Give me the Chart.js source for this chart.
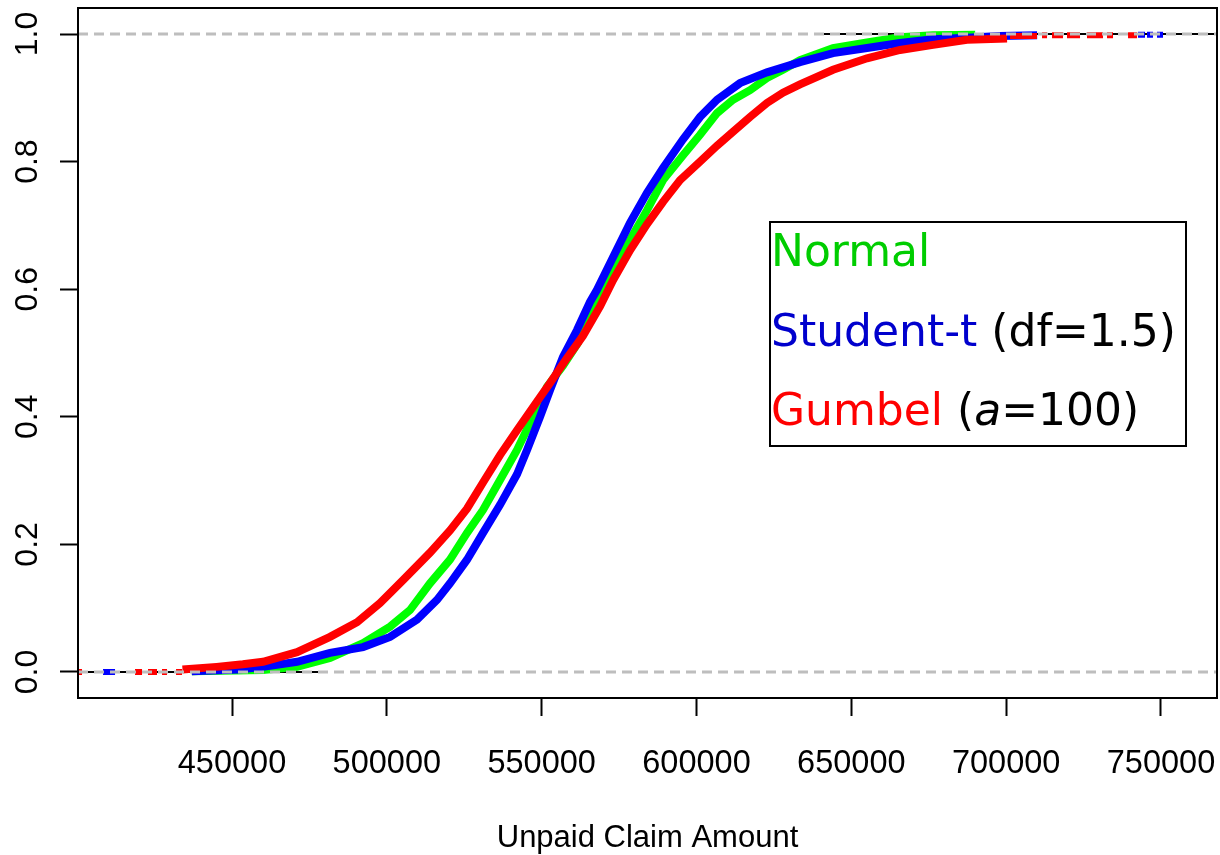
<!DOCTYPE html>
<html>
<head>
<meta charset="utf-8">
<script src="https://cdn.jsdelivr.net/npm/chart.js@4/dist/chart.umd.min.js"></script>
<style>
  body { margin: 0; background: #fff; }
  #wrap { width: 1220px; height: 855px; position: relative; }
</style>
</head>
<body>
<div id="wrap"><canvas id="ecdfChart"></canvas></div>
<script>
// axis limits and ticks
const xMin = 400260, xMax = 768090;
const yMin = -0.0408, yMax = 1.0408;
const xTicks = [450000, 500000, 550000, 600000, 650000, 700000, 750000];
const yTicks = [0, 0.2, 0.4, 0.6, 0.8, 1.0];

// Normal (green)
const normalX = [437000, 460010, 470990, 481650, 492310, 501030, 507480, 513940, 520400, 525890,
  531060, 536550, 542040, 547210, 551730, 556890, 561740, 564000, 568500, 573040, 578530, 584020, 589190,
  595650, 601140, 606630, 611800, 617280, 622770, 627940, 633430, 644090, 655070, 665720, 676380, 690000];
const normalF = [0.001, 0.003, 0.008, 0.022, 0.045, 0.071, 0.097, 0.139, 0.176, 0.218,
  0.254, 0.301, 0.348, 0.400, 0.447, 0.480, 0.516, 0.540, 0.585, 0.630, 0.677, 0.724, 0.771,
  0.810, 0.842, 0.876, 0.897, 0.912, 0.931, 0.944, 0.959, 0.978, 0.987, 0.995, 0.998, 0.999];

// Student-t (blue)
const studentX = [437000, 452000, 460010, 470990, 481650, 492310, 501030, 509740, 516200, 520400,
  525890, 531060, 536550, 542040, 545270, 549470, 552700, 556890, 561410, 565610, 567870, 573040,
  578530, 584020, 589190, 595650, 601140, 606630, 614050, 622770, 633430, 644090, 655070, 665720,
  676380, 687360, 698020, 710000];
const studentF = [0.001, 0.004, 0.008, 0.016, 0.030, 0.039, 0.055, 0.082, 0.113, 0.139,
  0.176, 0.218, 0.262, 0.310, 0.348, 0.400, 0.442, 0.494, 0.536, 0.580, 0.599, 0.650,
  0.704, 0.751, 0.790, 0.835, 0.870, 0.897, 0.923, 0.940, 0.956, 0.970, 0.978, 0.986,
  0.992, 0.994, 0.997, 0.998];
const studentTails = [[408340, 412220, 0.0], [742580, 744840, 0.999], [745490, 747430, 0.999], [748720, 750660, 0.999]];

// Gumbel (red)
const gumbelX = [434000, 445000, 453500, 460010, 470990, 481650, 490370, 497800, 505220, 513940,
  520400, 525890, 531060, 536550, 542040, 547210, 552700, 558180, 563350, 568840, 573040, 578530,
  584020, 589190, 594680, 601140, 606630, 611800, 617280, 622770, 627940, 633430, 644090, 655070,
  665720, 676380, 687360, 700280];
const gumbelF = [0.004, 0.008, 0.012, 0.016, 0.031, 0.055, 0.078, 0.108, 0.144, 0.187,
  0.222, 0.256, 0.297, 0.340, 0.379, 0.415, 0.453, 0.492, 0.527, 0.573, 0.614, 0.661,
  0.702, 0.737, 0.771, 0.800, 0.825, 0.847, 0.870, 0.892, 0.908, 0.921, 0.944, 0.962,
  0.975, 0.983, 0.991, 0.993];
const gumbelTails = [[399950, 401560, 0.0], [418670, 420940, 0.0], [422870, 425780, 0.0],
  [427390, 429010, 0.0], [431920, 433860, 0.0],
  [701250, 709970, 0.997], [711580, 713200, 0.998], [714810, 718360, 0.998], [719650, 723850, 0.998],
  [726110, 731280, 0.998], [732570, 734510, 0.998], [739360, 742260, 0.998]];

// black step ends and grey reference lines
const blackSegments = [[xMin, 480000, 0], [640000, xMax, 1]];
const refLevels = [0, 1];

const toPoints = (xs, fs) => xs.map((x, i) => ({ x: x, y: fs[i] }));
const toSegments = segs => segs.flatMap(([a, b, f]) => [{ x: a, y: f }, { x: b, y: f }, { x: b, y: null }]);

const lineSet = (data, color, width, dash) => ({
    data: data,
    borderColor: color,
    backgroundColor: color,
    borderWidth: width,
    borderDash: dash || [],
    borderCapStyle: 'butt',
    borderJoinStyle: 'miter',
    pointRadius: 0,
    tension: 0,
    spanGaps: false,
    fill: false
});

// strip the automatic label overhang padding so the plot box fills the canvas
const noPad = s => { s.paddingTop = 0; s.paddingBottom = 0; s.paddingLeft = 0; s.paddingRight = 0; };

// plot frame + legend box
const framePlugin = {
    id: 'frame',
    afterDraw(chart) {
        const { ctx, chartArea: a } = chart;
        ctx.save();
        ctx.strokeStyle = '#000';
        ctx.lineWidth = 2;
        ctx.strokeRect(a.left, a.top, a.right - a.left, a.bottom - a.top);

        ctx.strokeRect(770, 222, 416, 224);
        const rows = [
            [['Normal', '#00cd00', '']],
            [['Student-t', '#0000cd', ''], [' (df=1.5)', '#000', '']],
            [['Gumbel', '#ff0000', ''], [' (', '#000', ''], ['a', '#000', 'italic '], ['=100)', '#000', '']]
        ];
        const baselines = [266, 346, 425];
        ctx.textBaseline = 'alphabetic';
        ctx.textAlign = 'left';
        rows.forEach((row, i) => {
            let x = 771;
            row.forEach(([txt, col, style]) => {
                ctx.font = style + '44px "DejaVu Sans"';
                ctx.fillStyle = col;
                ctx.fillText(txt, x, baselines[i]);
                x += ctx.measureText(txt).width;
            });
        });
        ctx.restore();
    }
};

const datasets = [
    ...refLevels.map(v => lineSet([{ x: xMin, y: v }, { x: xMax, y: v }], '#bebebe', 3, [10, 6])),
    lineSet(toPoints(gumbelX, gumbelF), '#ff0000', 8),
    lineSet(toSegments(gumbelTails), '#ff0000', 6),
    lineSet(toPoints(studentX, studentF), '#0000ff', 8),
    lineSet(toSegments(studentTails), '#0000ff', 6),
    lineSet(toPoints(normalX, normalF), '#00ff00', 8),
    lineSet(toSegments(blackSegments), '#000000', 2)
];

new Chart(document.getElementById('ecdfChart'), {
    type: 'line',
    data: { datasets: datasets },
    options: {
        responsive: true,
        maintainAspectRatio: false,
        animation: false,
        layout: { padding: { top: 8, right: 3, left: 0, bottom: 0 } },
        plugins: { legend: { display: false }, tooltip: { enabled: false } },
        scales: {
            x: {
                type: 'linear',
                min: xMin,
                max: xMax,
                afterBuildTicks: s => { s.ticks = xTicks.map(v => ({ value: v })); },
                afterFit: s => { s.height = 157; noPad(s); },
                border: { display: false },
                grid: { drawOnChartArea: false, tickLength: 18, tickColor: '#000', tickWidth: 2 },
                ticks: {
                    autoSkip: false, maxRotation: 0, color: '#000', padding: 29,
                    font: { family: '"Liberation Sans", Arial', size: 32.5 },
                    callback: v => String(v)
                },
                title: {
                    display: true, text: 'Unpaid Claim Amount', color: '#000',
                    font: { family: '"Liberation Sans", Arial', size: 31, lineHeight: 1.05 },
                    padding: { top: 0, bottom: 0 }
                }
            },
            y: {
                type: 'linear',
                min: yMin,
                max: yMax,
                afterBuildTicks: s => { s.ticks = yTicks.map(v => ({ value: v })); },
                afterFit: s => { s.width = 78; noPad(s); },
                border: { display: false },
                grid: { drawOnChartArea: false, tickLength: 18, tickColor: '#000', tickWidth: 2 },
                ticks: {
                    autoSkip: false, minRotation: 90, maxRotation: 90, crossAlign: 'center',
                    color: '#000', padding: 10,
                    font: { family: '"Liberation Sans", Arial', size: 32 },
                    callback: v => v.toFixed(1)
                }
            }
        }
    },
    plugins: [framePlugin]
});
</script>
</body>
</html>
